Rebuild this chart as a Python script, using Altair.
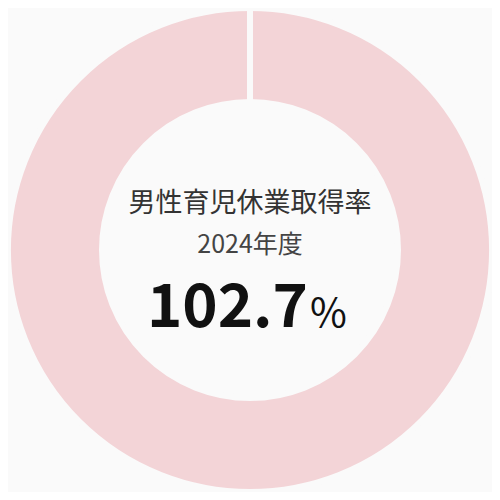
import altair as alt
import pandas as pd

categories = ["男性育児休業取得率", "区切り"]
values = [102.7, 0]
title_text = "男性育児休業取得率"
year_text = "2024年度"
value_text = "102.7"
unit_text = "%"

ring = pd.DataFrame({"category": categories, "value": values, "order": [0, 1]})
texts = pd.DataFrame({"title": [title_text], "year": [year_text],
                      "num": [value_text], "unit": [unit_text]})

FONT = "Noto Sans CJK JP"
BG = "#fafafa"

arc = alt.Chart(ring).mark_arc(
    outerRadius=242, innerRadius=148, stroke=BG, strokeWidth=6, color="#f3d4d7"
).encode(
    theta=alt.Theta("value:Q", stack=True),
    order=alt.Order("order:Q"),
)

base = alt.Chart(texts)
t1 = base.mark_text(font=FONT, fontSize=27, color="#333333", baseline="middle", align="center").encode(
    x=alt.value(242), y=alt.value(196), text="title:N")
t2 = base.mark_text(font=FONT, fontSize=25, color="#444444", baseline="middle", align="center").encode(
    x=alt.value(242), y=alt.value(237), text="year:N")
t3 = base.mark_text(font=FONT, fontSize=60, fontWeight="bold", color="#111111", baseline="alphabetic", align="right").encode(
    x=alt.value(300), y=alt.value(319), text="num:N")
t4 = base.mark_text(font=FONT, fontSize=40, color="#111111", baseline="alphabetic", align="left").encode(
    x=alt.value(302), y=alt.value(319), text="unit:N")

chart = alt.layer(arc, t1, t2, t3, t4).properties(
    width=484, height=484, padding=0, autosize=alt.AutoSizeParams(type="none"),
    background=BG
).configure_view(stroke=None)

chart.save("out.html", embed_options={"renderer": "svg", "actions": False})
